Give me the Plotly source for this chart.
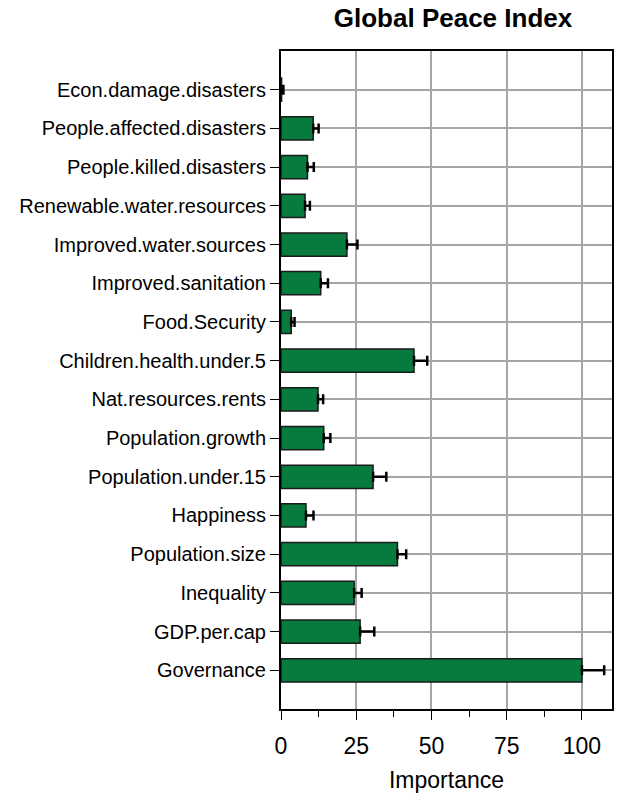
import plotly.graph_objects as go

# Predictor names, bottom to top
variables = [
    "Governance",
    "GDP.per.cap",
    "Inequality",
    "Population.size",
    "Happiness",
    "Population.under.15",
    "Population.growth",
    "Nat.resources.rents",
    "Children.health.under.5",
    "Food.Security",
    "Improved.sanitation",
    "Improved.water.sources",
    "Renewable.water.resources",
    "People.killed.disasters",
    "People.affected.disasters",
    "Econ.damage.disasters",
]

# Relative importance (scaled so the top predictor is 100)
importance = [100.0, 26.3, 24.3, 38.7, 8.3, 30.6, 14.2, 12.3, 44.2, 3.4,
              13.2, 21.9, 8.0, 8.8, 10.7, 0.2]

# Upper error (one-sided)
importance_err = [7.4, 4.7, 2.5, 2.9, 2.5, 4.4, 2.2, 1.7, 4.4, 1.1,
                  2.4, 3.5, 1.6, 2.1, 1.8, 0.6]

x_ticks = [0, 25, 50, 75, 100]

FONT = "Arial, Liberation Sans, sans-serif"

fig = go.Figure(
    go.Bar(
        x=importance,
        y=variables,
        orientation="h",
        width=0.6,
        marker=dict(color="#077a3e", line=dict(color="#1a1a1a", width=1.5)),
        error_x=dict(
            type="data",
            array=importance_err,
            arrayminus=[0] * len(importance_err),
            symmetric=False,
            color="black",
            thickness=2.5,
            width=5,
        ),
    )
)

fig.update_layout(
    width=621,
    height=802,
    margin=dict(l=281, r=7, t=51, b=93),
    plot_bgcolor="white",
    paper_bgcolor="white",
    showlegend=False,
    font=dict(family=FONT, color="black"),
    title=dict(
        text="<b>Global Peace Index</b>",
        font=dict(family=FONT, size=26, color="black"),
        x=453 / 621,
        xanchor="center",
        y=1 - 18 / 802,
        yanchor="middle",
    ),
)

fig.update_xaxes(
    range=[0, 110],
    tickvals=x_ticks,
    ticktext=[str(v) for v in x_ticks],
    tickfont=dict(size=23, family=FONT, color="black"),
    ticks="outside",
    ticklen=9,
    tickwidth=1.2,
    tickcolor="black",
    ticklabelstandoff=6,
    minor=dict(tickvals=[12.5, 37.5, 62.5, 87.5], ticks="outside", ticklen=6,
               tickwidth=1.2, tickcolor="black", showgrid=False),
    showgrid=True,
    gridcolor="#a6a6a6",
    gridwidth=1.5,
    showline=True,
    linecolor="black",
    linewidth=2,
    mirror=True,
    zeroline=False,
    title=dict(text="Importance", font=dict(size=23, family=FONT, color="black"),
               standoff=14),
)

fig.update_yaxes(
    type="category",
    categoryorder="array",
    categoryarray=variables,
    range=[-1, len(variables)],
    tickfont=dict(size=20, family=FONT, color="black"),
    ticks="outside",
    ticklen=9,
    tickwidth=1.2,
    tickcolor="black",
    ticklabelstandoff=0,
    showgrid=True,
    gridcolor="#a6a6a6",
    gridwidth=1.5,
    showline=True,
    linecolor="black",
    linewidth=2,
    mirror=True,
    zeroline=False,
)

fig.write_html("out.html")
